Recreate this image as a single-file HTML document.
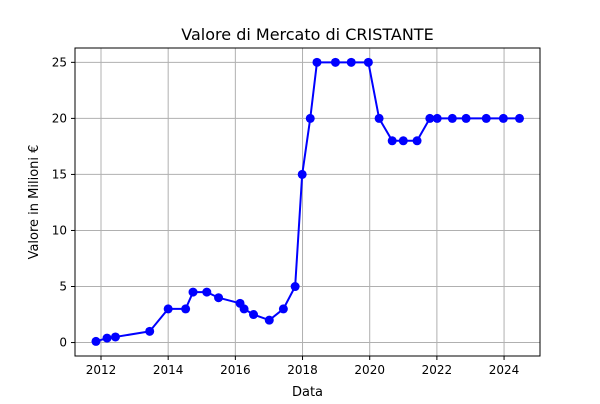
<!DOCTYPE html>
<html><head><meta charset="utf-8"><style>
body{margin:0;background:#fff;font-family:"DejaVu Sans","Liberation Sans",sans-serif;}
</style></head><body>
<svg id="c" width="600" height="400" xmlns="http://www.w3.org/2000/svg"></svg>
<script>
const years=[2011.85,2012.18,2012.43,2013.45,2014.0,2014.52,2014.74,2015.15,2015.5,2016.14,2016.26,2016.54,2017.01,2017.43,2017.78,2017.99,2018.23,2018.43,2018.98,2019.45,2019.96,2020.28,2020.67,2021.0,2021.41,2021.79,2022.01,2022.46,2022.87,2023.47,2023.98,2024.46];
const values=[0.1,0.4,0.5,1,3,3,4.5,4.5,4,3.5,3,2.5,2,3,5,15,20,25,25,25,25,20,18,18,18,20,20,20,20,20,20,20];
const xTicks=[2012,2014,2016,2018,2020,2022,2024];
const yTicks=[0,5,10,15,20,25];
const L=75,R=540,T=48,B=356;
const xMin=2011.226,xMax=2025.07,yMin=-1.2,yMax=26.28;
const sx=v=>L+(v-xMin)/(xMax-xMin)*(R-L);
const sy=v=>B-(v-yMin)/(yMax-yMin)*(B-T);
const svg=document.getElementById('c');const NS='http://www.w3.org/2000/svg';
function mk(t,a,txt){const e=document.createElementNS(NS,t);for(const k in a)e.setAttribute(k,a[k]);if(txt!==undefined)e.textContent=txt;svg.appendChild(e);return e;}
xTicks.forEach(v=>{const x=sx(v);
const g=mk('line',{x1:x,x2:x,y1:T,y2:B,stroke:'#b0b0b0','stroke-width':1});


mk('line',{x1:x,x2:x,y1:B,y2:B+4,stroke:'#000'});
const t=mk('text',{x:x,y:B+18,'text-anchor':'middle','font-size':12},String(v));

});
yTicks.forEach(v=>{const y=sy(v);
const g=mk('line',{x1:L,x2:R,y1:y,y2:y,stroke:'#b0b0b0','stroke-width':1});


mk('line',{x1:L-4,x2:L,y1:y,y2:y,stroke:'#000'});
const t=mk('text',{x:L-8,y:y+4,'text-anchor':'end','font-size':12},String(v));

});
const pl=mk('polyline',{points:years.map((y,i)=>sx(y)+','+sy(values[i])).join(' '),fill:'none',stroke:'#0000ff','stroke-width':2});


years.forEach((y,i)=>{const c=mk('circle',{cx:sx(y),cy:sy(values[i]),r:4.5,fill:'#0000ff'});

});
const fr=mk('rect',{x:L,y:T,width:R-L,height:B-T,fill:'none',stroke:'#000','stroke-width':1});


const ti=mk('text',{x:(L+R)/2,y:40,'text-anchor':'middle','font-size':16},'Valore di Mercato di CRISTANTE');


const xl=mk('text',{x:(L+R)/2,y:396,'text-anchor':'middle','font-size':13},'Data');


const yl=mk('text',{x:0,y:0,'text-anchor':'middle','font-size':13,transform:'translate(38,'+((T+B)/2)+') rotate(-90)'},'Valore in Milioni €');


</script>
</body></html>
